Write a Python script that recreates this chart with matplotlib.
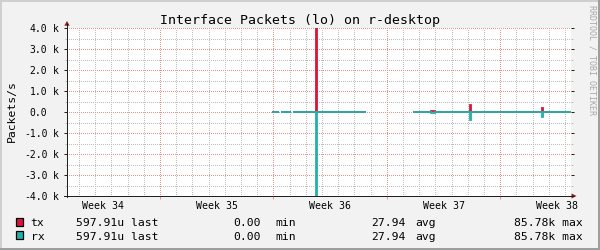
import numpy as np
import matplotlib
matplotlib.use("Agg")
import matplotlib.pyplot as plt
import matplotlib.transforms as mtransforms
from matplotlib.patches import Rectangle, Polygon
from matplotlib.lines import Line2D
from matplotlib.ticker import FixedLocator, MultipleLocator, NullFormatter

nan = np.nan

# ---------------- data ----------------
title = "Interface Packets (lo) on r-desktop"
y_label = "Packets/s"
watermark = "RRDTOOL / TOBI OETIKER"

# time in days (0 = start of week 35)
t_days = [6.93, 7.35, 7.49, 8.07, 8.21, 9.62, 9.67, 12.72, 15.62, 16.73, 16.96,
          19.13, 19.18, 23.60, 23.65, 25.43]
tx_pps = [0, nan, 0, nan, 0, 85780, 0, nan, 0, 60, 0, 330, 0, 190, 0, 0]
rx_pps = [0, nan, 0, nan, 0, 85780, 0, nan, 0, 60, 0, 380, 0, 240, 0, 0]

week_labels = ["Week 34", "Week 35", "Week 36", "Week 37", "Week 38"]
week_label_pos = [-3.5, 3.5, 10.5, 17.5, 24.5]
week_starts = [0, 7, 14, 21]
x_range = (-5.74, 25.37)

y_ticks = [-4000, -3000, -2000, -1000, 0, 1000, 2000, 3000, 4000]
y_tick_labels = ["-4.0 k", "-3.0 k", "-2.0 k", "-1.0 k", "0.0", "1.0 k", "2.0 k", "3.0 k", "4.0 k"]
y_range = (-4000, 4000)

series_names = ["tx", "rx"]
series_colors = ["#DC143C", "#20B2AA"]
last_vals = ["597.91u", "597.91u"]
min_vals = ["0.00", "0.00"]
avg_vals = ["27.94", "27.94"]
max_vals = ["85.78k", "85.78k"]

# ---------------- style ----------------
MONO = "DejaVu Sans Mono"
BACK = "#F2F2F2"
SHADEA = "#CFCFCF"
SHADEB = "#9E9E9E"
GRID = "#BDBDBD"
MGRID = "#EE9090"
ARROW = (0.50, 0.12, 0.12)
AXIS = (0.12, 0.12, 0.12)

W, H = 600, 250
fig = plt.figure(figsize=(W / 100, H / 100), dpi=100, facecolor=BACK)
px = mtransforms.Affine2D().scale(1, -1).translate(0, H)  # pixel coords, origin top-left

L, R, T, B = 67, 571, 28, 196
ax = fig.add_axes([L / W, 1 - B / H, (R - L) / W, (B - T) / H])
ax.set_facecolor("white")
ax.set_xlim(*x_range)
ax.set_ylim(*y_range)
for s in ax.spines.values():
    s.set_visible(False)

ax.xaxis.set_major_locator(FixedLocator(week_starts))
ax.xaxis.set_minor_locator(MultipleLocator(1))
ax.yaxis.set_major_locator(FixedLocator(y_ticks))
ax.yaxis.set_minor_locator(MultipleLocator(500))
ax.xaxis.set_major_formatter(NullFormatter())
ax.yaxis.set_major_formatter(NullFormatter())
ax.tick_params(axis="x", which="major", direction="out", length=2.5, width=0.72, color=MGRID)
ax.tick_params(axis="x", which="minor", length=0)
ax.tick_params(axis="y", which="major", direction="out", length=2.5, width=0.72, color=AXIS, right=True)
ax.tick_params(axis="y", which="minor", direction="out", length=1.5, width=0.72, color=GRID, right=True)
for tk in ax.yaxis.get_major_ticks():
    tk.tick2line.set_color(MGRID)

# dotted grid drawn explicitly at the tick locations
dot_kw = dict(lw=0.72, linestyle=(0, (1, 2)), antialiased=False, zorder=1)
for xv in ax.xaxis.get_minorticklocs():
    ax.axvline(xv, color=GRID, **dot_kw)
for yv in ax.yaxis.get_minorticklocs():
    ax.axhline(yv, color=GRID, **dot_kw)
for xv in ax.xaxis.get_majorticklocs():
    ax.axvline(xv, color=MGRID, **dot_kw)
for yv in ax.yaxis.get_majorticklocs():
    ax.axhline(yv, color=MGRID, **dot_kw)

# data lines (rx mirrored below zero)
ax.plot(t_days, tx_pps, drawstyle="steps-post", color=series_colors[0], lw=1.3, zorder=3,
        solid_capstyle="butt", solid_joinstyle="miter")
ax.plot(t_days, -np.array(rx_pps, dtype=float), drawstyle="steps-post", color=series_colors[1],
        lw=1.3, zorder=4, solid_capstyle="butt", solid_joinstyle="miter")

# axis lines and arrows
fig.add_artist(Line2D([L, L], [B + 1, T - 4], transform=px, color=AXIS, lw=0.72))
fig.add_artist(Line2D([L - 3, R + 2], [B, B], transform=px, color=AXIS, lw=0.72))
fig.add_artist(Polygon([[L - 2.7, T - 2.3], [L + 2.7, T - 2.3], [L, T - 7]], closed=True,
                       transform=px, color=ARROW, lw=0))
fig.add_artist(Polygon([[R + 0.5, B - 2.5], [R + 0.5, B + 2.5], [R + 5.5, B]], closed=True,
                       transform=px, color=ARROW, lw=0))

# y tick labels (number right-aligned, unit left-aligned)
ytr = mtransforms.blended_transform_factory(ax.transAxes, ax.transData)
for v, lab in zip(y_ticks, y_tick_labels):
    parts = lab.split(" ")
    off = mtransforms.ScaledTranslation(-19.7 / 100, -3.7 / 100, fig.dpi_scale_trans)
    ax.text(0, v, parts[0], transform=ytr + off, ha="right", va="baseline",
            fontsize=7, family=MONO, clip_on=False)
    if len(parts) > 1:
        off2 = mtransforms.ScaledTranslation(-13.9 / 100, -3.7 / 100, fig.dpi_scale_trans)
        ax.text(0, v, parts[1], transform=ytr + off2, ha="left", va="baseline",
                fontsize=7, family=MONO, clip_on=False)

# week labels
xtr = mtransforms.blended_transform_factory(ax.transData, ax.transAxes)
offw = mtransforms.ScaledTranslation(0, -13.3 / 100, fig.dpi_scale_trans)
for pos, lab in zip(week_label_pos, week_labels):
    ax.text(pos, 0, lab, transform=xtr + offw, ha="center", va="baseline",
            fontsize=7.1, family=MONO, clip_on=False)

# title, y label, watermark
fig.text(300, 24, title, transform=px, ha="center", va="baseline", fontsize=9.5, family=MONO)
fig.text(12.3, 111, y_label, transform=px, ha="center", va="center", rotation=90,
         fontsize=8.2, family=MONO)
fig.text(592, 60, watermark, transform=px, ha="center", va="center", rotation=270,
         fontsize=6, family=MONO, color="#A8A8A8")

# legend
base_y = [226, 239.5]
for i in range(2):
    by = base_y[i]
    fig.add_artist(Rectangle((15.5, by - 8.3), 7.8, 8.0, transform=px,
                             facecolor=series_colors[i], edgecolor="black", lw=0.9))
    kw = dict(transform=px, va="baseline", fontsize=8.2, family=MONO)
    fig.text(30.7, by, series_names[i], ha="left", **kw)
    fig.text(76, by, last_vals[i] + " last", ha="left", **kw)
    fig.text(261, by, min_vals[i], ha="right", **kw)
    fig.text(275.7, by, "min", ha="left", **kw)
    fig.text(370.7, by, avg_vals[i], ha="left", **kw)
    fig.text(415, by, "avg", ha="left", **kw)
    fig.text(514.3, by, max_vals[i] + " max", ha="left", **kw)

# 3D frame
fig.add_artist(Rectangle((0, 0), W, 2, transform=px, color=SHADEA, lw=0))
fig.add_artist(Rectangle((0, 0), 2, H, transform=px, color=SHADEA, lw=0))
fig.add_artist(Rectangle((0, H - 2), W, 2, transform=px, color=SHADEB, lw=0))
fig.add_artist(Rectangle((W - 2, 0), 2, H, transform=px, color=SHADEB, lw=0))

fig.savefig("out.png", dpi=100, facecolor=BACK)
